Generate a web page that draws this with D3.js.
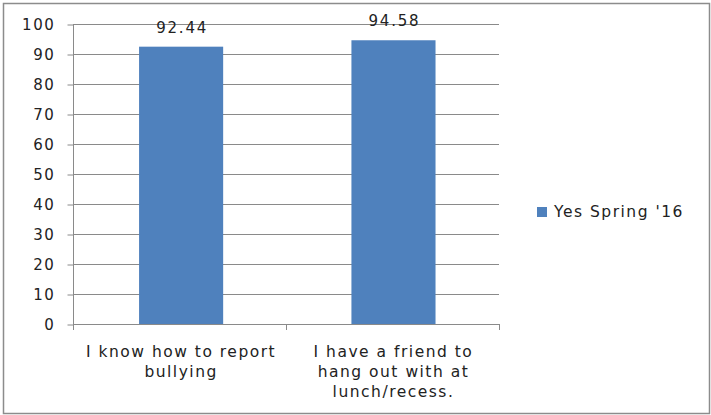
<!DOCTYPE html>
<html>
<head>
<meta charset="utf-8">
<script src="https://cdn.jsdelivr.net/npm/d3@7"></script>
<style>
  body { margin: 0; background: #fff; }
  text { font-family: "DejaVu Sans", Verdana, sans-serif; fill: #222; }
</style>
</head>
<body>
<div id="chart"></div>
<script>
// data
var categories = ["I know how to report bullying", "I have a friend to hang out with at lunch/recess."];
var categoryLines = [["I know how to report", "bullying"], ["I have a friend to", "hang out with at", "lunch/recess."]];
var yesSpring16 = [92.44, 94.58];
var seriesName = "Yes Spring '16";
var yTicks = [0, 10, 20, 30, 40, 50, 60, 70, 80, 90, 100];

var width = 711, height = 415;
var plot = { left: 73, right: 499, top: 24, bottom: 324 };

var svg = d3.select("#chart").append("svg")
    .attr("width", width)
    .attr("height", height);

// outer frame
svg.append("rect")
    .attr("x", 3.5).attr("y", 3.5)
    .attr("width", 706).attr("height", 410)
    .attr("fill", "none")
    .attr("stroke", "#8c8c8c")
    .attr("stroke-width", 1.5);

var x = d3.scaleBand()
    .domain(categories)
    .range([plot.left, plot.right])
    .paddingInner(0.604)
    .paddingOuter(0.305)
    .align(0.51);

var y = d3.scaleLinear()
    .domain([0, 100])
    .range([plot.bottom, plot.top]);

// gridlines
svg.append("g")
    .selectAll("line")
    .data(yTicks.filter(function(d) { return d > 0; }))
    .enter()
    .append("line")
    .attr("x1", plot.left).attr("x2", plot.right)
    .attr("y1", function(d) { return Math.round(y(d)) + 0.5; })
    .attr("y2", function(d) { return Math.round(y(d)) + 0.5; })
    .attr("stroke", "#8a8a8a")
    .attr("stroke-width", 1);

// y axis
var yAxis = svg.append("g")
    .attr("transform", "translate(" + (plot.left + 0.5) + ",0.5)")
    .call(d3.axisLeft(y).tickValues(yTicks).tickSize(6).tickPadding(12));
yAxis.select(".domain").attr("stroke", "#8a8a8a").attr("d", "M0," + plot.top + "V" + plot.bottom);
yAxis.selectAll(".tick line").attr("stroke", "#8a8a8a");
yAxis.selectAll(".tick text")
    .style("font-size", "15px")
    .style("letter-spacing", "1.6px")
    .style("font-family", "'DejaVu Sans', Verdana, sans-serif")
    .attr("fill", "#222");

// x axis with boundary ticks
svg.append("line")
    .attr("x1", plot.left).attr("x2", plot.right)
    .attr("y1", plot.bottom + 0.5).attr("y2", plot.bottom + 0.5)
    .attr("stroke", "#8a8a8a");
var bounds = [plot.left, (plot.left + plot.right) / 2, plot.right];
svg.append("g")
    .selectAll("line")
    .data(bounds)
    .enter()
    .append("line")
    .attr("x1", function(d) { return Math.round(d) + 0.5; })
    .attr("x2", function(d) { return Math.round(d) + 0.5; })
    .attr("y1", plot.bottom).attr("y2", plot.bottom + 6)
    .attr("stroke", "#8a8a8a");

// bars
svg.append("g")
    .selectAll("rect")
    .data(yesSpring16)
    .enter()
    .append("rect")
    .attr("x", function(d, i) { return x(categories[i]); })
    .attr("y", function(d) { return y(d); })
    .attr("width", x.bandwidth())
    .attr("height", function(d) { return y(0) - y(d); })
    .attr("fill", "#4f81bd");

// value labels
svg.append("g")
    .selectAll("text")
    .data(yesSpring16)
    .enter()
    .append("text")
    .attr("x", function(d, i) { return x(categories[i]) + x.bandwidth() / 2 + 1; })
    .attr("y", function(d) { return y(d) - 14; })
    .attr("text-anchor", "middle")
    .style("font-size", "15px")
    .style("letter-spacing", "1.8px")
    .text(function(d) { return d.toFixed(2); });

// category labels
categories.forEach(function(c, i) {
    var t = svg.append("text")
        .attr("text-anchor", "middle")
        .style("font-size", "15.5px")
        .style("letter-spacing", "1.5px");
    categoryLines[i].forEach(function(line, j) {
        t.append("tspan")
            .attr("x", x(c) + x.bandwidth() / 2)
            .attr("y", 357 + j * 20)
            .text(line);
    });
});

// legend
var legend = svg.append("g").attr("transform", "translate(537,207)");
legend.append("rect")
    .attr("width", 10).attr("height", 10)
    .attr("fill", "#4f81bd");
legend.append("text")
    .attr("x", 17).attr("y", 10)
    .style("font-size", "15.5px")
    .style("letter-spacing", "1.5px")
    .text(seriesName);
</script>
</body>
</html>
